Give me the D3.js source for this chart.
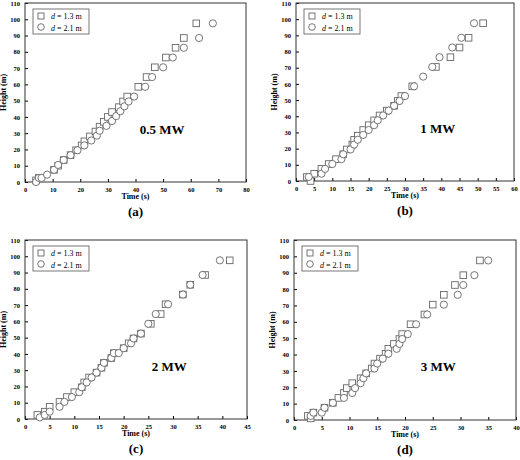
<!DOCTYPE html>
<html><head><meta charset="utf-8">
<script src="https://cdn.jsdelivr.net/npm/d3@7"></script>
<style>body{margin:0;background:#fff}svg{font-family:"Liberation Serif",serif;font-weight:bold}</style>
</head><body><div id="chart"></div>
<script>
// data: [time (s), height (m)]
var sqA = [[4,1],[5,2.5],[10.5,7.5],[12,10],[14,13.5],[16.5,16.5],[18.5,19.5],[20.5,22.5],[21.5,25],[23.5,28],[25.5,31],[27,34],[28.5,37],[30,40],[31.5,43],[34,46],[35.5,49.5],[37,52.5],[41,58.5],[44,64.5],[47,70.5],[51,76.5],[54.5,82.5],[57.5,88.5],[62,97.5]];
var ciA = [[4,0],[5,2.5],[6,2.5],[8,4.5],[10.5,7.5],[12,10.5],[14,13.5],[16.5,16.5],[19,19.5],[21.5,22.5],[24,25.5],[26,28.5],[27,31.5],[29.5,34.5],[31.5,37.5],[33,40.5],[34.5,43.5],[36,46.5],[37.5,49.5],[39.5,52.5],[43.5,58.5],[46,64.5],[50,70.5],[53.5,76.5],[57.5,82.5],[63,88.5],[68,97.5]];
var sqB = [[3,2.5],[4,0],[5,4.5],[7,7.5],[9,10.5],[11,13.5],[13,16.5],[14,19.5],[15.5,22.5],[16,25.5],[17,28],[18.5,31.5],[20,34.5],[21.5,37.5],[23,40.5],[25,43.5],[27,46.5],[28,49.5],[29,52.5],[32,58.5],[38.5,70.5],[42.5,76.5],[45,82.5],[47.5,88.5],[51.5,97.5]];
var ciB = [[3.5,2.5],[7,4.5],[8,7.5],[10,10.5],[12.5,13.5],[13,16.5],[15,19.5],[16,22.5],[17,25.5],[18.5,28.5],[20,31.5],[21.5,34.5],[22.5,37.5],[24,40.5],[25.5,43.5],[27,46.5],[28.5,49.5],[30,52.5],[32.5,58.5],[35,64.5],[37.5,70.5],[39.5,76.5],[43,82.5],[45.5,88.5],[49,97.5]];
var sqC = [[2.5,2.5],[4,4.5],[5,7.5],[7,10.5],[8.5,13.5],[10,16.5],[11.5,19.5],[12,22.5],[13,25.5],[14.5,28.5],[15.5,31.5],[16,34.5],[17.5,37.5],[18,40.5],[20,43.5],[21,46.5],[22,49.5],[23.5,52.5],[25.5,58.5],[27.5,64.5],[28.5,70.5],[32,76.5],[33.5,82.5],[36.5,88.5],[41.5,97.5]];
var ciC = [[3,1],[4,2.5],[5,4.5],[7,7.5],[8,10.5],[9.5,13.5],[11,16.5],[11.5,19.5],[12.5,22.5],[13.5,25.5],[14.5,28.5],[15.5,31.5],[16,34.5],[17.5,37.5],[18,40.5],[19,40.5],[20,43.5],[21.5,46.5],[22,49.5],[23.5,52.5],[25,58.5],[26.5,64.5],[29,70.5],[32,76.5],[33.5,82.5],[36,88.5],[39.5,97.5]];
var sqD = [[2.5,2.5],[3,1],[3.5,4.5],[5.5,7.5],[7,10.5],[8,13.5],[9,16.5],[9.5,19.5],[10.5,22.5],[12,25.5],[13,28.5],[14,31.5],[14.5,34.5],[15.5,37.5],[16.5,40.5],[17,43.5],[18,46.5],[19,49.5],[19.5,52.5],[21,58.5],[23.5,64.5],[25,70.5],[27,76.5],[29,82.5],[30.5,88.5],[33.5,97.5]];
var ciD = [[3,2.5],[3.5,4.5],[5,4.5],[5.5,7.5],[7,10.5],[9,13.5],[10.5,16.5],[11,19.5],[12,22.5],[12.5,25.5],[13,28.5],[14.5,31.5],[15,34.5],[16,37.5],[17,40.5],[18.5,43.5],[19,46.5],[19.5,49.5],[20.5,52.5],[22,58.5],[24,64.5],[27,70.5],[29.5,76.5],[30.5,82.5],[32.5,88.5],[35,97.5]];
var panels = [
  {sq: sqA, ci: ciA, xmax: 80, step: 10, power: "0.5 MW", tag: "(a)", x0: 25, x1: 246, y0: 3, y1: 182, lx: 0.62, ly: 0.27},
  {sq: sqB, ci: ciB, xmax: 60, step: 5, power: "1 MW", tag: "(b)", x0: 296, x1: 514, y0: 3, y1: 181, lx: 0.65, ly: 0.27},
  {sq: sqC, ci: ciC, xmax: 45, step: 5, power: "2 MW", tag: "(c)", x0: 25, x1: 247, y0: 240, y1: 419, lx: 0.65, ly: 0.27},
  {sq: sqD, ci: ciD, xmax: 40, step: 5, power: "3 MW", tag: "(d)", x0: 294, x1: 516, y0: 240, y1: 420, lx: 0.65, ly: 0.27}
];

var svg = d3.select("#chart").append("svg").attr("width", 520).attr("height", 460);

panels.forEach(function(p) {
  var x = d3.scaleLinear().domain([0, p.xmax]).range([p.x0, p.x1]);
  var y = d3.scaleLinear().domain([0, 110]).range([p.y1, p.y0]);
  var g = svg.append("g");

  g.append("g").attr("transform", "translate(0," + p.y1 + ")")
    .call(d3.axisBottom(x).tickValues(d3.range(0, p.xmax + 0.1, p.step)).tickSize(-3).tickPadding(5))
    .call(function(a){ a.select(".domain").remove(); a.selectAll("text").attr("font-size", 6.5).attr("font-family", "Liberation Serif"); });
  g.append("g").attr("transform", "translate(" + p.x0 + ",0)")
    .call(d3.axisLeft(y).tickValues(d3.range(0, 111, 10)).tickSize(-3).tickPadding(5))
    .call(function(a){ a.select(".domain").remove(); a.selectAll("text").attr("font-size", 6.5).attr("font-family", "Liberation Serif"); });
  g.append("rect").attr("x", p.x0).attr("y", p.y0).attr("width", p.x1 - p.x0).attr("height", p.y1 - p.y0)
    .attr("fill", "none").attr("stroke", "#333").attr("stroke-width", 1);

  g.selectAll(".sq").data(p.sq).enter().append("rect")
    .attr("x", function(d){ return x(d[0]) - 3.3; }).attr("y", function(d){ return y(d[1]) - 3.3; })
    .attr("width", 6.6).attr("height", 6.6).attr("fill", "#fff").attr("stroke", "#666").attr("stroke-width", 0.9);
  g.selectAll(".ci").data(p.ci).enter().append("circle")
    .attr("cx", function(d){ return x(d[0]); }).attr("cy", function(d){ return y(d[1]); })
    .attr("r", 3.6).attr("fill", "#fff").attr("stroke", "#666").attr("stroke-width", 0.9);

  // legend
  var lg = g.append("g").attr("transform", "translate(" + (p.x0 + 8) + "," + (p.y0 + 6) + ")");
  lg.append("rect").attr("width", 56).attr("height", 25).attr("fill", "#fff").attr("stroke", "#555").attr("stroke-width", 0.8);
  lg.append("rect").attr("x", 5).attr("y", 4).attr("width", 6).attr("height", 6).attr("fill", "#fff").attr("stroke", "#666").attr("stroke-width", 0.9);
  lg.append("circle").attr("cx", 8).attr("cy", 18).attr("r", 3.3).attr("fill", "#fff").attr("stroke", "#666").attr("stroke-width", 0.9);
  ["1.3", "2.1"].forEach(function(v, i) {
    var t = lg.append("text").attr("x", 18).attr("y", 10 + i * 12).attr("font-size", 8).attr("font-weight", "normal");
    t.append("tspan").attr("font-style", "italic").text("d");
    t.append("tspan").text(" = " + v + " m");
  });

  g.append("text").attr("x", x(p.xmax * p.lx)).attr("y", y(110 * p.ly)).attr("text-anchor", "middle")
    .attr("font-size", 13).text(p.power);
  g.append("text").attr("x", (p.x0 + p.x1) / 2).attr("y", p.y1 + 17).attr("text-anchor", "middle")
    .attr("font-size", 8).text("Time (s)");
  g.append("text").attr("transform", "translate(" + (p.x0 - 19) + "," + ((p.y0 + p.y1) / 2) + ") rotate(-90)")
    .attr("text-anchor", "middle").attr("font-size", 8).text("Height (m)");
  g.append("text").attr("x", (p.x0 + p.x1) / 2).attr("y", p.y1 + 34).attr("text-anchor", "middle")
    .attr("font-size", 13).text(p.tag);
});
</script></body></html>
